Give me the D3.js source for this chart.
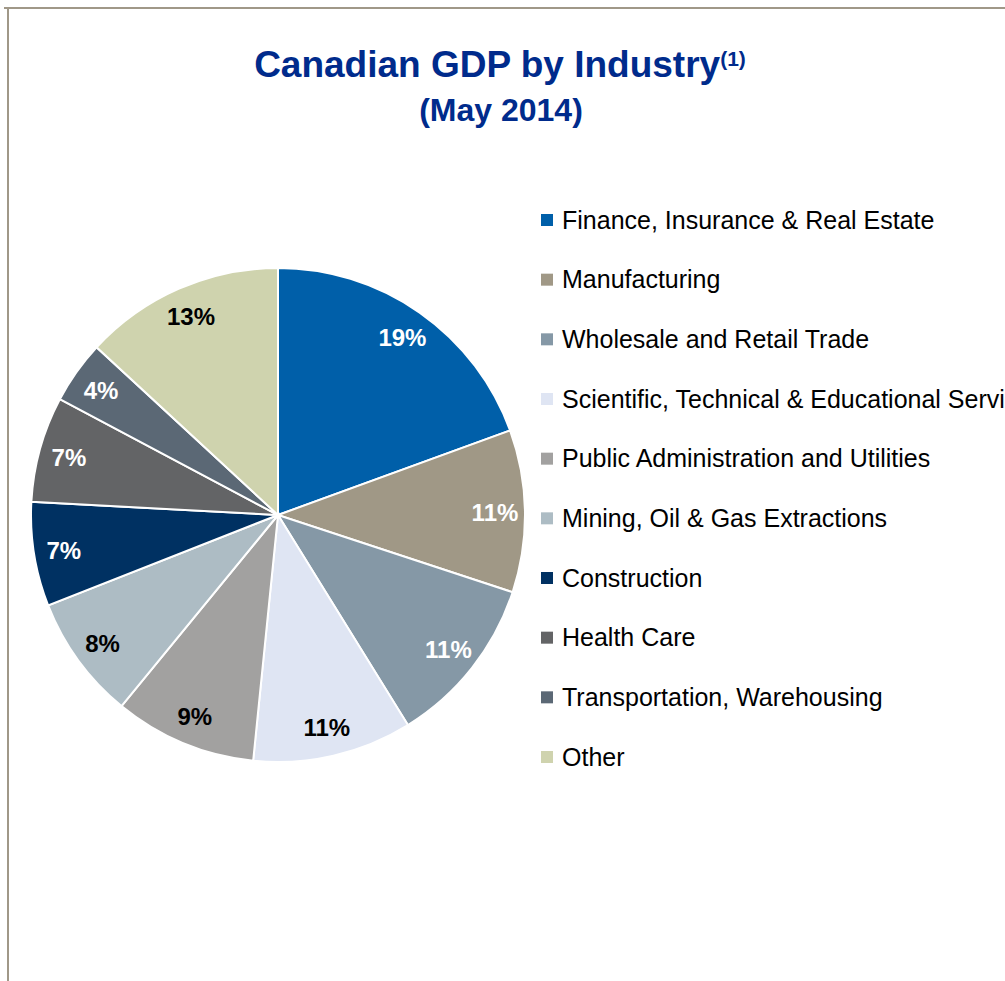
<!DOCTYPE html>
<html lang="en">
<head>
<meta charset="UTF-8">
<title>Canadian GDP by Industry</title>
<script src="https://cdn.jsdelivr.net/npm/d3@7/dist/d3.min.js"></script>
<style>
  html, body { margin: 0; padding: 0; background: #fff; overflow: hidden; }
  text { font-family: "Liberation Sans", Arial, sans-serif; }
</style>
</head>
<body>
<svg id="main" width="1005" height="981"></svg>
<script>
// data (share of GDP, %)
const industries = ['Finance, Insurance & Real Estate', 'Manufacturing', 'Wholesale and Retail Trade',
  'Scientific, Technical & Educational Services', 'Public Administration and Utilities',
  'Mining, Oil & Gas Extractions', 'Construction', 'Health Care',
  'Transportation, Warehousing', 'Other'];
const shares = [19.4, 10.6, 11.1, 10.4, 9.3, 8.1, 6.8, 6.9, 4.1, 13.1];
const labels = ['19%', '11%', '11%', '11%', '9%', '8%', '7%', '7%', '4%', '13%'];
const colors = ['#005fa9', '#a09886', '#8598a6', '#dfe5f3', '#a2a1a0',
  '#adbcc4', '#003162', '#636466', '#5b6875', '#cfd3ae'];
const labelColors = ['#fff', '#fff', '#fff', '#000', '#000', '#000', '#fff', '#fff', '#fff', '#000'];

let svg = d3.select('svg#main');

// frame lines (top and left)
svg.append('line').attr('x1', 4).attr('x2', 1005).attr('y1', 8).attr('y2', 8)
  .attr('stroke', '#a09888').attr('stroke-width', 2);
svg.append('line').attr('x1', 8).attr('x2', 8).attr('y1', 8).attr('y2', 981)
  .attr('stroke', '#a09888').attr('stroke-width', 2);

// title
let title = svg.append('text')
  .attr('x', 500).attr('y', 77)
  .attr('text-anchor', 'middle')
  .attr('fill', '#002b8c')
  .style('font-weight', 'bold')
  .style('font-size', '37px');
title.append('tspan').text('Canadian GDP by Industry');
title.append('tspan').attr('dy', -11).style('font-size', '21px').text('(1)');

svg.append('text')
  .attr('x', 501).attr('y', 121)
  .attr('text-anchor', 'middle')
  .attr('fill', '#002b8c')
  .style('font-weight', 'bold')
  .style('font-size', '32px')
  .text('(May 2014)');

// pie
const cx = 278, cy = 515, radius = 247;
let pie = d3.pie().sort(null).value(d => d);
let arc = d3.arc().innerRadius(0).outerRadius(radius);
let labelArc = d3.arc().innerRadius(217).outerRadius(217);

let g = svg.append('g').attr('transform', `translate(${cx},${cy})`);
let arcs = pie(shares);

g.selectAll('path')
  .data(arcs)
  .enter()
  .append('path')
  .attr('d', arc)
  .attr('fill', (d, i) => colors[i])
  .attr('stroke', '#fff')
  .attr('stroke-width', 2);

g.selectAll('text.lbl')
  .data(arcs)
  .enter()
  .append('text')
  .attr('class', 'lbl')
  .attr('transform', d => `translate(${labelArc.centroid(d)})`)
  .attr('text-anchor', 'middle')
  .attr('dy', '0.38em')
  .attr('fill', (d, i) => labelColors[i])
  .style('font-weight', 'bold')
  .style('font-size', '24px')
  .text((d, i) => labels[i]);

// legend
let rowY = d3.scalePoint().domain(industries).range([220, 757]);
let legend = svg.append('g').selectAll('g')
  .data(industries)
  .enter()
  .append('g')
  .attr('transform', d => `translate(541,${rowY(d)})`);

legend.append('rect')
  .attr('x', 0).attr('y', -6)
  .attr('width', 12).attr('height', 12)
  .attr('fill', (d, i) => colors[i]);

legend.append('text')
  .attr('x', 21).attr('y', 0)
  .attr('dy', '0.35em')
  .attr('fill', '#000')
  .style('font-size', '25px')
  .text(d => d);
</script>
</body>
</html>
